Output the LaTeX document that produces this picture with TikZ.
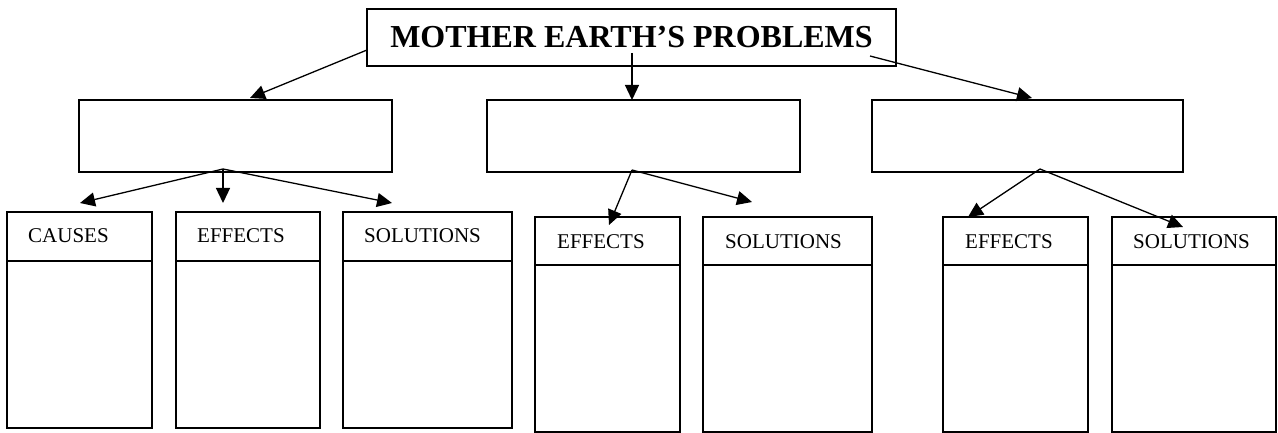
\documentclass[tikz,border=0pt]{standalone}
\usepackage{fontspec}
\setmainfont{Liberation Serif}
\usetikzlibrary{arrows.meta}
\begin{document}
\begin{tikzpicture}[x=1pt,y=-1pt,
  box/.style={draw=black,line width=1.3pt,inner sep=0pt,rectangle},
  lbl/.style={anchor=base west,inner sep=0pt,font=\fontsize{21}{21}\selectfont},
  arr/.style={line width=1.3pt,-{Triangle[length=15pt,width=14pt]}}]
\useasboundingbox (0,0) rectangle (1278,433);
% top
\node[box,minimum width=529pt,minimum height=57pt,font=\fontsize{32}{32}\selectfont\bfseries] (top) at (631.5,37.5) {MOTHER EARTH’S PROBLEMS};
% middle boxes
\node[box,minimum width=313pt,minimum height=72pt] (m1) at (235.5,136) {};
\node[box,minimum width=313pt,minimum height=72pt] (m2) at (643.5,136) {};
\node[box,minimum width=311pt,minimum height=72pt] (m3) at (1027.5,136) {};
% bottom boxes, left group (top 212, divider 261, bottom 428)
\node[box,minimum width=145pt,minimum height=49pt] (ah) at (79.5,236.5) {};
\node[box,minimum width=145pt,minimum height=167pt] (ab) at (79.5,344.5) {};
\node[box,minimum width=144pt,minimum height=49pt] (bh) at (248,236.5) {};
\node[box,minimum width=144pt,minimum height=167pt] (bb) at (248,344.5) {};
\node[box,minimum width=169pt,minimum height=49pt] (ch) at (427.5,236.5) {};
\node[box,minimum width=169pt,minimum height=167pt] (cb) at (427.5,344.5) {};
% middle group (top 217, divider 265, bottom 432)
\node[box,minimum width=145pt,minimum height=48pt] (dh) at (607.5,241) {};
\node[box,minimum width=145pt,minimum height=167pt] (db) at (607.5,348.5) {};
\node[box,minimum width=169pt,minimum height=48pt] (eh) at (787.5,241) {};
\node[box,minimum width=169pt,minimum height=167pt] (eb) at (787.5,348.5) {};
% right group
\node[box,minimum width=145pt,minimum height=48pt] (fh) at (1015.5,241) {};
\node[box,minimum width=145pt,minimum height=167pt] (fb) at (1015.5,348.5) {};
\node[box,minimum width=164pt,minimum height=48pt] (gh) at (1194,241) {};
\node[box,minimum width=164pt,minimum height=167pt] (gb) at (1194,348.5) {};
% labels
\node[lbl] (la) at (28,243) {CAUSES};
\node[lbl] (lb) at (197,243) {EFFECTS};
\node[lbl] (lc) at (364,243) {SOLUTIONS};
\node[lbl] (ld) at (557,248) {EFFECTS};
\node[lbl] (le) at (725,248) {SOLUTIONS};
\node[lbl] (lf) at (965,248) {EFFECTS};
\node[lbl] (lg) at (1133,248) {SOLUTIONS};
% connector end points
\coordinate (t1) at (367,50);
\coordinate (t2) at (632,53);
\coordinate (t3) at (870,56);
\coordinate (m1t) at (250,98);
\coordinate (m2t) at (632,100);
\coordinate (m3t) at (1032,98);
\coordinate (o1) at (223,169);
\coordinate (o2) at (632,170);
\coordinate (o3) at (1040,169);
\coordinate (at) at (80,203);
\coordinate (bt) at (223,203);
\coordinate (ct) at (392,203);
\coordinate (dt) at (609,225);
\coordinate (et) at (752,202);
\coordinate (ft) at (968,217);
\coordinate (gt) at (1183,227);
% connectors
\draw[arr] (t1) -- (m1t);
\draw[arr] (t2) -- (m2t);
\draw[arr] (t3) -- (m3t);
\draw[arr] (o1) -- (at);
\draw[arr] (o1) -- (bt);
\draw[arr] (o1) -- (ct);
\draw[arr] (o2) -- (dt);
\draw[arr] (o2) -- (et);
\draw[arr] (o3) -- (ft);
\draw[arr] (o3) -- (gt);
\end{tikzpicture}
\end{document}
